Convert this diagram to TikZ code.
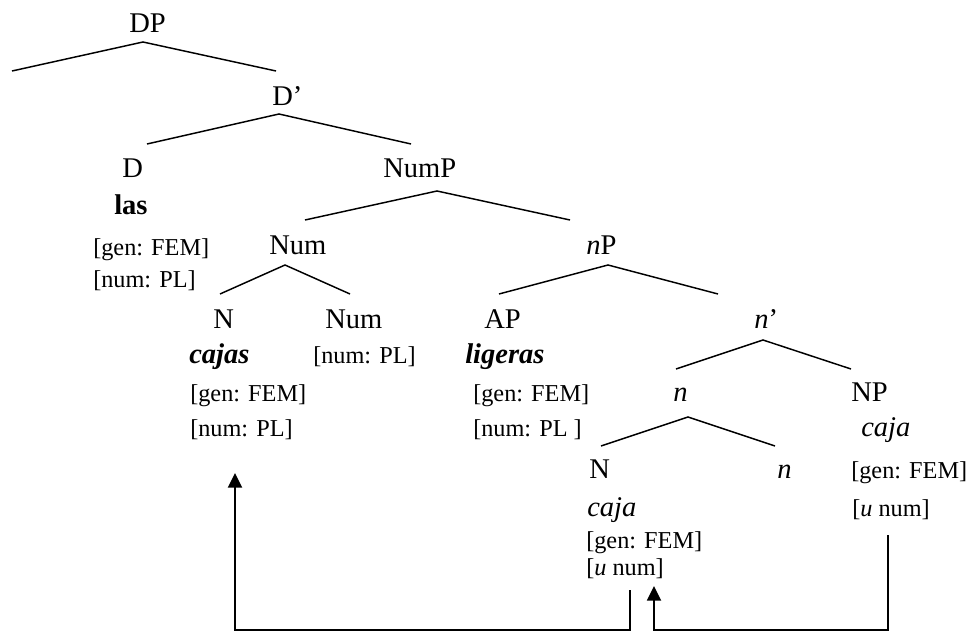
\documentclass[tikz,border=0pt]{standalone}
\usepackage{fontspec}
\setmainfont{Liberation Serif}
\usetikzlibrary{arrows.meta}
\begin{document}
\begin{tikzpicture}[x=0.75pt,y=-0.75pt,
  lbl/.style={anchor=base west,inner sep=0pt,font=\fontsize{21.4}{26}\selectfont},
  feat/.style={anchor=base west,inner sep=0pt,font=\fontsize{18.2}{22}\selectfont},
  branch/.style={line width=1.1pt},
  link/.style={line width=1.4pt},
  tipped/.style={-{Triangle[width=10.5pt,length=11pt]}}]
\useasboundingbox (0,0) rectangle (968,631);

% labels
\node[lbl] (DP) at (129,33) {DP};
\node[lbl] (Dbar) at (272,106) {D’};
\node[lbl] (D) at (122,178) {D};
\node[lbl] (NumP) at (383,178) {NumP};
\node[lbl] (las) at (114,215) {\bfseries las};
\node[feat] (Dgen) at (93,256) {[gen: FEM]};
\node[feat] (Dnum) at (93,287) {[num: PL]};
\node[lbl] (Num) at (269,255) {Num};
\node[lbl] (nP) at (586,255) {\textit{n}P};
\node[lbl] (Na) at (213,328) {N};
\node[lbl] (Numb) at (325,328) {Num};
\node[lbl] (AP) at (484,328) {AP};
\node[lbl] (nbar) at (754,328) {\textit{n}’};
\node[lbl] (cajas) at (189,363) {\textbf{\textit{cajas}}};
\node[feat] (Numbf) at (313,363) {[num: PL]};
\node[lbl] (ligeras) at (465,363) {\textbf{\textit{ligeras}}};
\node[feat] (Nagen) at (190,401) {[gen: FEM]};
\node[feat] (Nanum) at (190,436) {[num: PL]};
\node[feat] (APgen) at (473,401) {[gen: FEM]};
\node[feat] (APnum) at (473,436) {[num: PL ]};
\node[lbl] (n) at (673,401) {\textit{n}};
\node[lbl] (NP) at (851,401) {NP};
\node[lbl] (NPcaja) at (861,436) {\textit{caja}};
\node[lbl] (Nb) at (589,478) {N};
\node[lbl] (nb) at (777,478) {\textit{n}};
\node[feat] (NPgen) at (851,478) {[gen: FEM]};
\node[feat] (NPnum) at (852,516) {[\textit{u} num]};
\node[lbl] (Nbcaja) at (587,516) {\textit{caja}};
\node[feat] (Nbgen) at (586,548) {[gen: FEM]};
\node[feat] (Nbnum) at (586,575) {[\textit{u} num]};

% branch points
\coordinate (DPa) at (143,42);  \coordinate (DPl) at (12,71);   \coordinate (DPr) at (276,71);
\coordinate (Dba) at (279,114); \coordinate (Dbl) at (147,144); \coordinate (Dbr) at (411,144);
\coordinate (NPa) at (437,191); \coordinate (NPl) at (305,220); \coordinate (NPr) at (570,220);
\coordinate (Nma) at (285,265); \coordinate (Nml) at (220,294); \coordinate (Nmr) at (350,294);
\coordinate (nPa) at (608,265); \coordinate (nPl) at (499,294); \coordinate (nPr) at (718,294);
\coordinate (nba) at (763,340); \coordinate (nbl) at (676,369); \coordinate (nbr) at (851,369);
\coordinate (nna) at (688,417); \coordinate (nnl) at (601,446); \coordinate (nnr) at (775,446);

\draw[branch] (DPl) -- (DPa) -- (DPr);
\draw[branch] (Dbl) -- (Dba) -- (Dbr);
\draw[branch] (NPl) -- (NPa) -- (NPr);
\draw[branch] (Nml) -- (Nma) -- (Nmr);
\draw[branch] (nPl) -- (nPa) -- (nPr);
\draw[branch] (nbl) -- (nba) -- (nbr);
\draw[branch] (nnl) -- (nna) -- (nnr);

% agreement arrows
\coordinate (s1) at (630,590); \coordinate (c1) at (630,630);
\coordinate (c2) at (235,630); \coordinate (t1) at (235,473);
\coordinate (s2) at (888,535); \coordinate (c3) at (888,630);
\coordinate (c4) at (654,630); \coordinate (t2) at (654,586);
\draw[link,tipped] (s1) -- (c1) -- (c2) -- (t1);
\draw[link,tipped] (s2) -- (c3) -- (c4) -- (t2);
\end{tikzpicture}
\end{document}
